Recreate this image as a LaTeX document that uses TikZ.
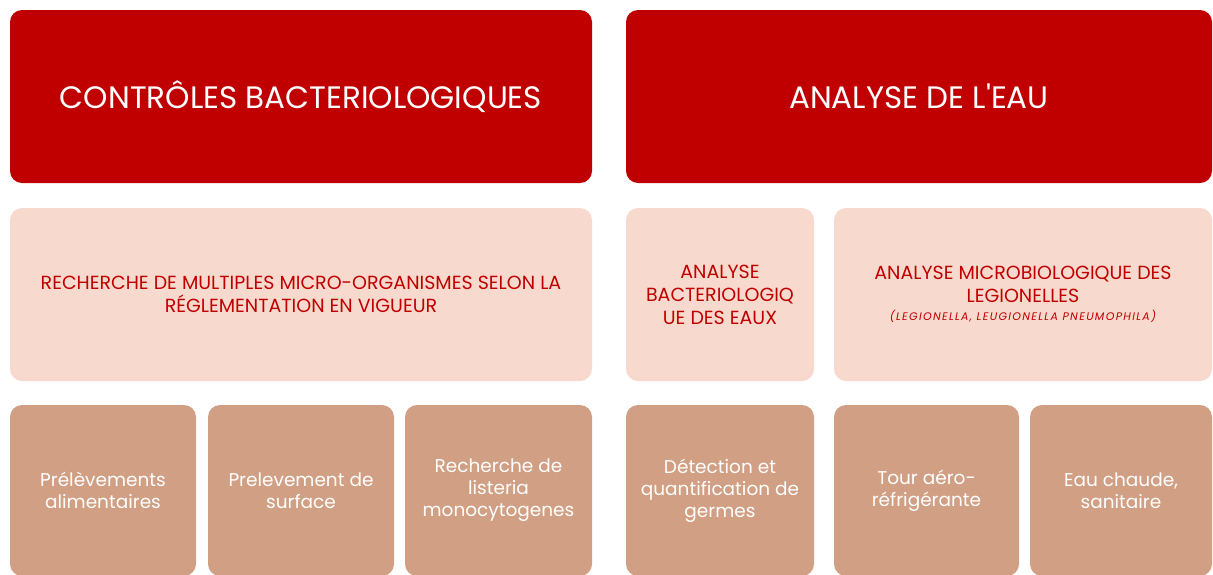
\documentclass[tikz,border=0pt]{standalone}
\usepackage{fontspec}
\setmainfont{Poppins}
\usetikzlibrary{positioning}
\definecolor{headred}{HTML}{C00000}
\definecolor{subpink}{HTML}{F8D9CE}
\definecolor{leaftan}{HTML}{D19F83}

\begin{document}
\begin{tikzpicture}[x=1pt,y=-1pt,
    box/.style={rectangle, rounded corners=12pt, inner sep=4pt, outer sep=0pt,
      align=center, minimum height=173pt},
    head/.style={box, fill=headred, text=white, font=\fontsize{31}{36}\selectfont},
    sub/.style={box, fill=subpink, text=headred, font=\fontsize{19}{23}\selectfont},
    leaf/.style={box, fill=leaftan, text=white, minimum height=171pt,
      font=\fontsize{18.5}{22}\selectfont}]
  \useasboundingbox (0,0) rectangle (1213,574);
  \clip (0,0) rectangle (1213,574);
  % top row
  \node[head, minimum width=582pt, anchor=north west] (ctrl) at (10,10) {CONTRÔLES BACTERIOLOGIQUES};
  \node[head, minimum width=586pt, right=34pt of ctrl] (eau) {ANALYSE DE L{\addfontfeature{Ligatures=TeXOff}'}EAU};
  % middle row
  \node[sub, minimum width=582pt, below=25pt of ctrl] (rech)
    {RECHERCHE DE MULTIPLES MICRO-ORGANISMES SELON LA\\RÉGLEMENTATION EN VIGUEUR};
  \node[sub, minimum width=188pt, below right=25pt and 0pt of eau.south west] (bact)
    {ANALYSE\\BACTERIOLOGIQ\\UE DES EAUX};
  \node[sub, minimum width=378pt, right=20pt of bact] (legio)
    {ANALYSE MICROBIOLOGIQUE DES\\LEGIONELLES\\[-5pt]{\fontsize{11}{12}\selectfont\itshape\addfontfeature{LetterSpace=12}(LEGIONELLA, LEUGIONELLA PNEUMOPHILA)}};
  % bottom row
  \node[leaf, minimum width=186pt, below right=24pt and 0pt of rech.south west] (prel)
    {Prélèvements\\alimentaires};
  \node[leaf, minimum width=186pt, right=12pt of prel] (surf) {Prelevement de\\surface};
  \node[leaf, minimum width=187pt, right=11pt of surf] (list) {Recherche de\\listeria\\monocytogenes};
  \node[leaf, minimum width=188pt, below right=24pt and 0pt of bact.south west] (germ)
    {Détection et\\quantification de\\germes};
  \node[leaf, minimum width=185pt, right=20pt of germ] (tour) {Tour aéro-\\réfrigérante};
  \node[leaf, minimum width=182pt, right=11pt of tour] (chaude) {Eau chaude,\\sanitaire};
\end{tikzpicture}
\end{document}
